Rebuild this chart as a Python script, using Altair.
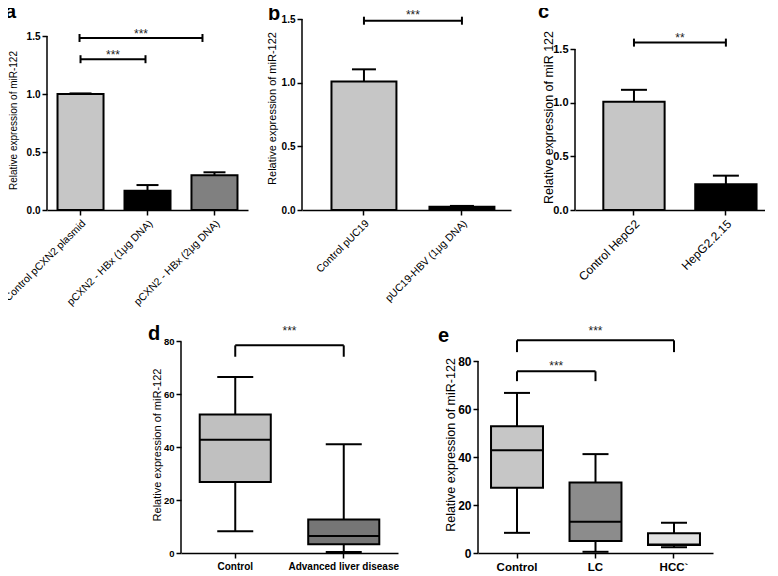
import altair as alt
import pandas as pd

FONT = "Liberation Sans"

# ---------------- data ----------------
a_cats = ["Control pCXN2 plasmid", "pCXN2 - HBx (1μg DNA)", "pCXN2 - HBx (2μg DNA)"]
a_mean = [1.00, 0.165, 0.30]
a_upper = [1.005, 0.215, 0.325]

b_cats = ["Control pUC19", "pUC19-HBV (1μg DNA)"]
b_mean = [1.01, 0.025]
b_upper = [1.105, 0.032]

c_cats = ["Control HepG2", "HepG2.2.15"]
c_mean = [1.01, 0.24]
c_upper = [1.12, 0.32]

bar_ticks = [0.0, 0.5, 1.0, 1.5]

d_cats = ["Control", "Advanced liver disease"]
d_min = [8.2, 0.4]
d_q1 = [26.8, 3.3]
d_med = [42.8, 6.4]
d_q3 = [52.4, 12.7]
d_max = [66.5, 41.1]

e_cats = ["Control", "LC", "HCC`"]
e_min = [8.4, 0.5, 2.4]
e_q1 = [27.2, 5.0, 3.3]
e_med = [42.8, 13.0, 3.5]
e_q3 = [52.8, 29.4, 8.2]
e_max = [66.7, 41.2, 12.6]

box_ticks = [0, 20, 40, 60, 80]

# significance brackets: from, to, height, label
a_sig = [("Control pCXN2 plasmid", "pCXN2 - HBx (2μg DNA)", 1.483, "***"),
         ("Control pCXN2 plasmid", "pCXN2 - HBx (1μg DNA)", 1.30, "***")]
b_sig = [("Control pUC19", "pUC19-HBV (1μg DNA)", 1.487, "***")]
c_sig = [("Control HepG2", "HepG2.2.15", 1.56, "**")]
# box brackets: from, to, height, leg end, label
d_sig = [("Control", "Advanced liver disease", 78.5, 74.2, "***")]
e_sig = [("Control", "HCC`", 88.6, 83.7, "***"),
         ("Control", "LC", 75.7, 71.6, "***")]

# ---------------- styles ----------------
a_fill = ["#c6c6c6", "#000000", "#808080"]
b_fill = ["#c6c6c6", "#000000"]
c_fill = ["#c6c6c6", "#000000"]
d_fill = ["#c0c0c0", "#767676"]
e_fill = ["#c6c6c6", "#8c8c8c", "#e2e2e2"]


def step_of(width, n, pi, po):
    return width / (n - pi + 2 * po)


def make_axes(cats, pi, po, align, ymax, yticks, yfmt, ytitle,
              lab_fs, tit_fs, xlab_fs, xangle, xbold, title_y, title_pad):
    xscale = alt.Scale(domain=cats, paddingInner=pi, paddingOuter=po, align=align)
    xaxis = alt.Axis(title=None, labelFont=FONT, labelFontSize=xlab_fs, labelColor="black",
                     labelFontWeight="bold" if xbold else "normal", labelAngle=xangle,
                     domainColor="black", domainWidth=1.5, tickColor="black", tickWidth=1.5,
                     tickSize=5, labelPadding=3, grid=False, labelLimit=400)
    yscale = alt.Scale(domain=[0, ymax], nice=False, zero=True)
    yaxis_kw = dict(title=ytitle, values=yticks, format=yfmt, domain=False, grid=False,
                    tickSize=5, tickWidth=1.5, tickColor="black",
                    labelFont=FONT, labelFontSize=lab_fs, labelFontWeight="bold",
                    labelColor="black", labelPadding=2,
                    titleFont=FONT, titleFontSize=tit_fs, titleFontWeight="normal",
                    titleColor="black", titlePadding=title_pad)
    if title_y is not None:
        yaxis_kw["titleY"] = title_y
    yaxis = alt.Axis(**yaxis_kw)

    def X(f):
        return alt.X(f, type="nominal", scale=xscale, axis=xaxis)

    def Y(f):
        return alt.Y(f, type="quantitative", scale=yscale, axis=yaxis)

    return X, Y


def panel_title(letter, dx, off):
    return alt.TitleParams(letter, anchor="start", frame="group", dx=dx, offset=off,
                           fontSize=20, fontWeight="bold", font=FONT, color="black",
                           baseline="alphabetic")


def tick(orient, size):
    return dict(orient=orient, size=size, thickness=2, color="black", opacity=1)


def bar_panel(letter, cats, mean, upper, fills, sig, sig_offsets, sig_dy, ymax, width, height,
              pi, po, align, ytitle, lab_fs, tit_fs, xlab_fs, title_dx, title_off, title_y,
              title_pad, cap_w):
    X, Y = make_axes(cats, pi, po, align, ymax, bar_ticks, ".1f", ytitle,
                     lab_fs, tit_fs, xlab_fs, -45, False, title_y, title_pad)
    step = step_of(width, len(cats), pi, po)
    df = pd.DataFrame({"cat": cats, "mean": mean, "upper": upper})
    base = alt.Chart(df)
    layers = [
        base.mark_rule(color="black", strokeWidth=2).encode(x=X("cat"), y=Y("mean"), y2="upper"),
        base.mark_tick(**tick("horizontal", cap_w)).encode(x=X("cat"), y=Y("upper")),
        base.mark_bar(stroke="black", strokeWidth=2, opacity=1).encode(
            x=X("cat"), y=Y("mean"),
            fill=alt.Fill("cat:N", scale=alt.Scale(domain=cats, range=fills), legend=None)),
    ]
    axdf = pd.DataFrame({"lo": [bar_ticks[0]], "hi": [bar_ticks[-1]]})
    layers.append(alt.Chart(axdf).mark_rule(color="black", strokeWidth=1.5).encode(
        x=alt.value(0), y=Y("lo"), y2="hi"))
    for (f, t, yv, lab), (o1, o2), dy in zip(sig, sig_offsets, sig_dy):
        sdf = pd.DataFrame({"x1": [f], "x2": [t], "y": [yv], "lab": [lab]})
        sb = alt.Chart(sdf)
        layers.append(sb.mark_rule(color="black", strokeWidth=2, xOffset=o1, x2Offset=o2).encode(
            x=X("x1"), x2="x2", y=Y("y")))
        layers.append(sb.mark_tick(xOffset=o1, **tick("vertical", 8)).encode(
            x=X("x1"), y=Y("y")))
        layers.append(sb.mark_tick(xOffset=o2, **tick("vertical", 8)).encode(
            x=X("x2"), y=Y("y")))
        dx = (cats.index(t) - cats.index(f)) * step / 2 + (o1 + o2) / 2
        layers.append(sb.mark_text(font=FONT, fontSize=12, color="#222222", dx=dx, dy=dy,
                                   baseline="alphabetic").encode(
            x=X("x1"), y=Y("y"), text="lab:N"))
    return alt.layer(*layers).properties(width=width, height=height,
                                         title=panel_title(letter, title_dx, title_off))


def box_panel(letter, cats, mins, q1, med, q3, maxs, fills, sig, sig_dy, ymax, width, height,
              pi, po, ytitle, lab_fs, tit_fs, xlab_fs, title_dx, title_off, title_pad, cap_w):
    X, Y = make_axes(cats, pi, po, 0.5, ymax, box_ticks, "d", ytitle,
                     lab_fs, tit_fs, xlab_fs, 0, True, None, title_pad)
    step = step_of(width, len(cats), pi, po)
    bw = step * (1 - pi)
    df = pd.DataFrame({"cat": cats, "lo": mins, "q1": q1, "med": med, "q3": q3, "hi": maxs})
    base = alt.Chart(df)
    layers = [
        base.mark_rule(color="black", strokeWidth=2).encode(x=X("cat"), y=Y("lo"), y2="hi"),
        base.transform_fold(["lo", "hi"], as_=["k", "v"]).mark_tick(
            **tick("horizontal", cap_w)).encode(x=X("cat"), y=Y("v")),
        base.mark_bar(stroke="black", strokeWidth=2, opacity=1).encode(
            x=X("cat"), y=Y("q1"), y2="q3",
            fill=alt.Fill("cat:N", scale=alt.Scale(domain=cats, range=fills), legend=None)),
        base.mark_tick(**tick("horizontal", bw)).encode(x=X("cat"), y=Y("med")),
    ]
    axdf = pd.DataFrame({"lo": [box_ticks[0]], "hi": [box_ticks[-1]]})
    layers.append(alt.Chart(axdf).mark_rule(color="black", strokeWidth=1.5).encode(
        x=alt.value(0), y=Y("lo"), y2="hi"))
    for (f, t, yv, yl, lab), dy in zip(sig, sig_dy):
        sdf = pd.DataFrame({"x1": [f], "x2": [t], "y": [yv], "yl": [yl], "lab": [lab]})
        sb = alt.Chart(sdf)
        layers.append(sb.mark_rule(color="black", strokeWidth=2).encode(
            x=X("x1"), x2="x2", y=Y("y")))
        layers.append(sb.mark_rule(color="black", strokeWidth=2).encode(
            x=X("x1"), y=Y("y"), y2="yl"))
        layers.append(sb.mark_rule(color="black", strokeWidth=2).encode(
            x=X("x2"), y=Y("y"), y2="yl"))
        dx = (cats.index(t) - cats.index(f)) * step / 2
        layers.append(sb.mark_text(font=FONT, fontSize=12, color="#222222", dx=dx, dy=dy,
                                   baseline="alphabetic").encode(
            x=X("x1"), y=Y("y"), text="lab:N"))
    return alt.layer(*layers).properties(width=width, height=height,
                                         title=panel_title(letter, title_dx, title_off))


def spacer(w):
    return alt.Chart(pd.DataFrame({"s": [0]})).mark_point(opacity=0, size=0).encode(
        x=alt.X("s:Q", axis=None), y=alt.Y("s:Q", axis=None)).properties(width=w, height=10)


TOP_H = 191
BOT_H = 217

pa = bar_panel("a", a_cats, a_mean, a_upper, a_fill, a_sig, [(-1, -12), (0, -2)], [0, 0],
               TOP_H / 116.0, 201, TOP_H, 0.313, 0.157, 0.5,
               "Relative expression of miR-122", 10, 10, 10.5, -42, -19, 101, 8, 22)
pb = bar_panel("b", b_cats, b_mean, b_upper, b_fill, b_sig, [(0, 0)], [-2],
               TOP_H / 127.3, 209, TOP_H, 0.337, 0.235, 0.64,
               "Relative expression of miR-122", 10, 11, 10.5, -34, -31, 89, 4, 24)
pc = bar_panel("c", c_cats, c_mean, c_upper, c_fill, c_sig, [(0, 0)], [-1],
               TOP_H / 107.3, 190, TOP_H, 0.333, 0.20, 0.77,
               "Relative expression of miR 122", 11, 12.5, 12, -37, -19, 98, -3, 26)
pd_ = box_panel("d", d_cats, d_min, d_q1, d_med, d_q3, d_max, d_fill, d_sig, [-10],
                BOT_H / 2.645, 217, BOT_H, 0.345, 0.1725,
                "Relative expression of miR-122", 9.5, 11, 10, -33, -35, 1, 36)
pe = box_panel("e", e_cats, e_min, e_q1, e_med, e_q3, e_max, e_fill, e_sig, [-5, -1],
               BOT_H / 2.40, 235, BOT_H, 0.338, 0.166,
               "Relative expression of miR-122", 12, 12.5, 11.5, -40, -37, 0, 26)

top = alt.hconcat(pa, spacer(54), pb, spacer(64), pc, spacing=0, bounds="flush"
                  ).resolve_scale(fill="independent")
bottom = alt.hconcat(spacer(134), pd_, spacer(80), pe, spacing=0, bounds="flush"
                     ).resolve_scale(fill="independent")

chart = alt.vconcat(top, bottom, spacing=16).resolve_scale(fill="independent").properties(
    padding={"left": -6, "top": -6, "right": 0, "bottom": 0}, background="white"
).configure_view(strokeWidth=0)

chart.save("out.html", embed_options={"renderer": "svg", "actions": False})
